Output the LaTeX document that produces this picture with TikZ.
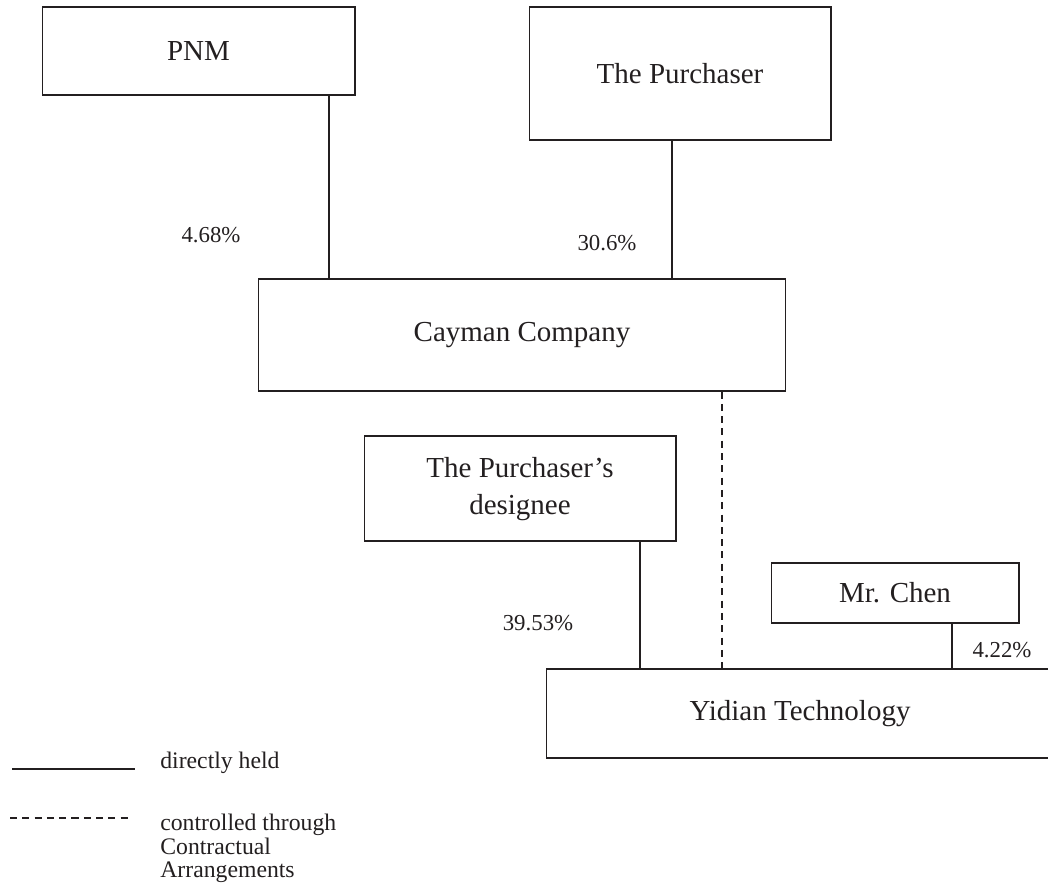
\documentclass[tikz,border=0pt]{standalone}
\usepackage{fontspec}
\setmainfont{Liberation Serif}
\usepackage{tikz}
\usetikzlibrary{calc}
\definecolor{ink}{HTML}{231F20}

\begin{document}
\begin{tikzpicture}[x=0.02cm,y=-0.02cm]
	\tikzstyle{every node}=[text=ink]
	\tikzstyle{ent}=[draw=ink, line width=0.6pt, inner sep=0pt, align=center, font=\fontsize{16.5}{21.5}\selectfont]
	\tikzstyle{pct}=[inner sep=0pt, font=\fontsize{13}{15}\selectfont]
	\tikzstyle{link}=[draw=ink, line width=0.6pt]
	\tikzstyle{ctrl}=[draw=ink, line width=0.6pt, dash pattern=on 4pt off 3pt]
	
	\clip (0,0) rectangle (1048,890);
	
	\node[ent, minimum width=6.26cm, minimum height=1.76cm] (pnm) at (198.5,51) {PNM};
	\node[ent, minimum width=6.04cm, minimum height=2.66cm] (pur) at (680,73.5) {The Purchaser};
	\node[ent, minimum width=10.56cm, minimum height=2.24cm] (cay) at (522,335) {Cayman Company};
	\node[ent, minimum width=6.24cm, minimum height=2.10cm, text depth=3pt] (des) at (520,488.5) {The Purchaser's\\designee};
	\node[ent, minimum width=4.96cm, minimum height=1.20cm] (chen) at (895,593) {Mr. Chen};
	\node[ent, minimum width=10.16cm, minimum height=1.78cm] (yid) at (800,713.5) {Yidian Technology};
	
	\path (pnm.south) ++(130.5,0) coordinate (pnmdown);
	\path (pur.south) ++(-8,0) coordinate (purdown);
	\path (cay.south) ++(200,0) coordinate (caydown);
	\path (des.south) ++(120,0) coordinate (desdown);
	\path (chen.south) ++(57,0) coordinate (chendown);
	
	\draw[link] (pnmdown) -- (pnmdown |- cay.north);
	\draw[link] (purdown) -- (purdown |- cay.north);
	\draw[ctrl] (caydown) -- (caydown |- yid.north);
	\draw[link] (desdown) -- (desdown |- yid.north);
	\draw[link] (chendown) -- (chendown |- yid.north);
	
	\node[pct] (p1) at (211,235) {4.68\%};
	\node[pct] (p2) at (607,243) {30.6\%};
	\node[pct] (p3) at (538,623) {39.53\%};
	\node[pct] (p4) at (1002,650) {4.22\%};
	
	% legend
	\coordinate (solidl) at (12,769);
	\coordinate (solidr) at (135,769);
	\coordinate (dashl) at (10,818);
	\coordinate (dashr) at (128,818);
	\draw[link] (solidl) -- (solidr);
	\draw[ctrl] (dashl) -- (dashr);
	\node[pct, anchor=base west, font=\fontsize{13.5}{13.5}\selectfont] (lgsolid) at (160,768) {directly held};
	\node[pct, anchor=north west, align=left, font=\fontsize{13.5}{13.4}\selectfont] (lgdash) at (160,814) {controlled through\\Contractual\\Arrangements};
\end{tikzpicture}
\end{document}
